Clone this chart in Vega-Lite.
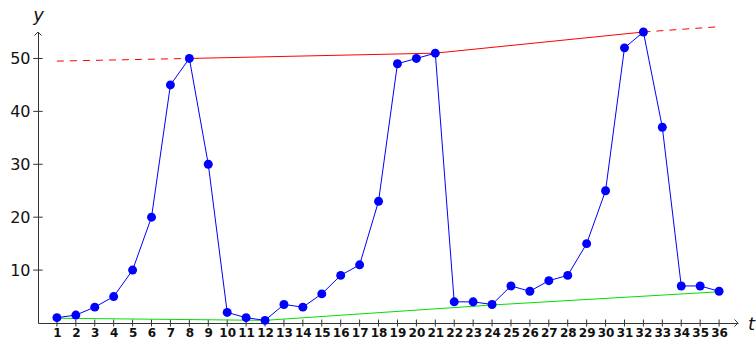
{
  "$schema": "https://vega.github.io/schema/vega-lite/v6.json",
  "width": 700,
  "height": 291,
  "autosize": {"type": "none"},
  "padding": {"left": 38, "top": 32, "right": 18, "bottom": 16},
  "background": "white",
  "config": {
    "view": {"stroke": null},
    "font": "DejaVu Sans"
  },
  "datasets": {
    "series": [
      {"t": 1, "y": 1}, {"t": 2, "y": 1.5}, {"t": 3, "y": 3}, {"t": 4, "y": 5},
      {"t": 5, "y": 10}, {"t": 6, "y": 20}, {"t": 7, "y": 45}, {"t": 8, "y": 50},
      {"t": 9, "y": 30}, {"t": 10, "y": 2}, {"t": 11, "y": 1}, {"t": 12, "y": 0.5},
      {"t": 13, "y": 3.5}, {"t": 14, "y": 3}, {"t": 15, "y": 5.5}, {"t": 16, "y": 9},
      {"t": 17, "y": 11}, {"t": 18, "y": 23}, {"t": 19, "y": 49}, {"t": 20, "y": 50},
      {"t": 21, "y": 51}, {"t": 22, "y": 4}, {"t": 23, "y": 4}, {"t": 24, "y": 3.5},
      {"t": 25, "y": 7}, {"t": 26, "y": 6}, {"t": 27, "y": 8}, {"t": 28, "y": 9},
      {"t": 29, "y": 15}, {"t": 30, "y": 25}, {"t": 31, "y": 52}, {"t": 32, "y": 55},
      {"t": 33, "y": 37}, {"t": 34, "y": 7}, {"t": 35, "y": 7}, {"t": 36, "y": 6}
    ],
    "upperSolid": [
      {"t": 8, "y": 50}, {"t": 21, "y": 51}, {"t": 32, "y": 55}
    ],
    "upperDashed": [
      {"t": 1, "y": 49.5, "part": "before"}, {"t": 8, "y": 50, "part": "before"},
      {"t": 32, "y": 55, "part": "after"}, {"t": 36, "y": 56, "part": "after"}
    ],
    "lower": [
      {"t": 1, "y": 0.9}, {"t": 12, "y": 0.5}, {"t": 24, "y": 3.4}, {"t": 36, "y": 5.9}
    ],
    "yticks": [{"y": 10}, {"y": 20}, {"y": 30}, {"y": 40}, {"y": 50}]
  },
  "layer": [
    {
      "data": {"name": "series"},
      "mark": {"type": "rule", "color": "#333333", "strokeWidth": 1},
      "encoding": {
        "x": {
          "field": "t", "type": "quantitative",
          "scale": {"domain": [0, 37], "nice": false, "zero": false},
          "axis": {
            "values": [1,2,3,4,5,6,7,8,9,10,11,12,13,14,15,16,17,18,19,20,21,22,23,24,25,26,27,28,29,30,31,32,33,34,35,36],
            "tickCount": 40,
            "grid": false, "ticks": false, "tickSize": 0,
            "domainColor": "#333333", "domainWidth": 1,
            "labelFont": "DejaVu Sans", "labelFontSize": 12, "labelFontWeight": "bold",
            "labelColor": "#111111", "labelPadding": 4, "labelOverlap": false, "labelFlush": false,
            "labelSeparation": 0, "labelBound": false,
            "title": "t", "titleFont": "DejaVu Sans", "titleFontSize": 18, "titleFontStyle": "italic",
            "titleFontWeight": "normal", "titleColor": "#111111",
            "titleX": 713, "titleY": 1, "titleAlign": "center", "titleBaseline": "middle", "titleAngle": 0
          }
        },
        "y": {
          "datum": -0.66, "type": "quantitative",
          "scale": {"domain": [0, 55], "nice": false, "zero": false},
          "axis": {
            "values": [10, 20, 30, 40, 50],
            "grid": false, "ticks": false, "tickSize": 0,
            "domainColor": "#333333", "domainWidth": 1,
            "labelFont": "DejaVu Sans", "labelFontSize": 16, "labelColor": "#111111",
            "labelPadding": 8,
            "title": "y", "titleFont": "DejaVu Sans", "titleFontSize": 18, "titleFontStyle": "italic",
            "titleFontWeight": "normal", "titleColor": "#111111",
            "titleX": 0, "titleY": -17, "titleAlign": "center", "titleBaseline": "middle", "titleAngle": 0
          }
        },
        "y2": {"datum": 0.66}
      }
    },
    {
      "data": {"name": "yticks"},
      "mark": {"type": "rule", "color": "#333333", "strokeWidth": 1},
      "encoding": {
        "x": {"datum": -0.25, "type": "quantitative"},
        "x2": {"datum": 0.25},
        "y": {"field": "y", "type": "quantitative"}
      }
    },
    {
      "data": {"values": [{"t": 37, "y": 0}]},
      "mark": {"type": "point", "shape": "M-1,-1L0,0L-1,1", "filled": false, "size": 49, "strokeWidth": 1, "color": "#333333", "opacity": 1},
      "encoding": {
        "x": {"field": "t", "type": "quantitative"},
        "y": {"field": "y", "type": "quantitative"}
      }
    },
    {
      "data": {"values": [{"t": 0, "y": 55}]},
      "mark": {"type": "point", "shape": "M-1,1L0,0L1,1", "filled": false, "size": 49, "strokeWidth": 1, "color": "#333333", "opacity": 1},
      "encoding": {
        "x": {"field": "t", "type": "quantitative"},
        "y": {"field": "y", "type": "quantitative"}
      }
    },
    {
      "data": {"name": "upperDashed"},
      "mark": {"type": "line", "color": "#ff0000", "strokeWidth": 1, "strokeDash": [7, 6]},
      "encoding": {
        "x": {"field": "t", "type": "quantitative"},
        "y": {"field": "y", "type": "quantitative"},
        "detail": {"field": "part", "type": "nominal"}
      }
    },
    {
      "data": {"name": "upperSolid"},
      "mark": {"type": "line", "color": "#ff0000", "strokeWidth": 1},
      "encoding": {
        "x": {"field": "t", "type": "quantitative"},
        "y": {"field": "y", "type": "quantitative"}
      }
    },
    {
      "data": {"name": "lower"},
      "mark": {"type": "line", "color": "#00e000", "strokeWidth": 1},
      "encoding": {
        "x": {"field": "t", "type": "quantitative"},
        "y": {"field": "y", "type": "quantitative"}
      }
    },
    {
      "data": {"name": "series"},
      "mark": {"type": "line", "color": "#0000ff", "strokeWidth": 1},
      "encoding": {
        "x": {"field": "t", "type": "quantitative"},
        "y": {"field": "y", "type": "quantitative"}
      }
    },
    {
      "data": {"name": "series"},
      "mark": {"type": "circle", "color": "#0000ff", "size": 80, "opacity": 1},
      "encoding": {
        "x": {"field": "t", "type": "quantitative"},
        "y": {"field": "y", "type": "quantitative"}
      }
    }
  ]
}
